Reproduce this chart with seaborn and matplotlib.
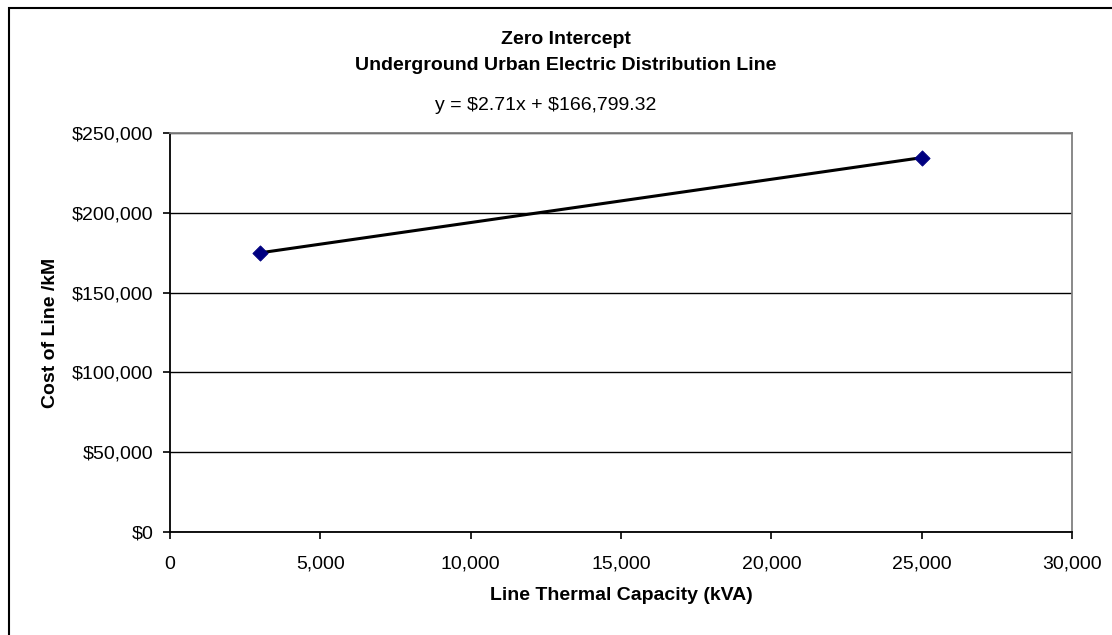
import matplotlib
matplotlib.use("Agg")
import matplotlib.pyplot as plt
from matplotlib.ticker import FuncFormatter, MultipleLocator
from matplotlib.patches import Rectangle
import seaborn as sns
import pandas as pd

# Observed line cost against thermal capacity
capacity_kva = [3000, 25000]
cost_per_km = [174929.32, 234549.32]

# Fitted trendline
slope = 2.71
intercept = 166799.32

title_lines = ["Zero Intercept", "Underground Urban Electric Distribution Line"]
x_label = "Line Thermal Capacity (kVA)"
y_label = "Cost of Line /kM"

sns.set_style("white")
plt.rcParams["font.family"] = ["Liberation Sans", "DejaVu Sans"]
plt.rcParams["text.color"] = "black"
plt.rcParams["axes.labelcolor"] = "black"
plt.rcParams["text.parse_math"] = False

FS = 14

df = pd.DataFrame({"capacity": capacity_kva, "cost": cost_per_km})
trend = pd.DataFrame({"capacity": capacity_kva,
                      "cost": [slope * x + intercept for x in capacity_kva]})

fig = plt.figure(figsize=(11.12, 6.35), dpi=100)
ax = fig.add_axes([170 / 1112, 1 - 532 / 635, (1072 - 170) / 1112, (532 - 133) / 635])

# chart-area frame (left and top edges visible)
fig.patches.append(Rectangle((9 / 1112, -0.1), 1.2, 1 - 8 / 635 + 0.1,
                             transform=fig.transFigure, fill=False,
                             edgecolor="black", linewidth=1.5, zorder=0))

sns.lineplot(data=trend, x="capacity", y="cost", ax=ax, color="black",
             linewidth=2.2, zorder=3)
sns.scatterplot(data=df, x="capacity", y="cost", ax=ax, marker="D",
                color="#000080", edgecolor="#000080", s=60, zorder=4)

ax.set_xlim(0, 30000)
ax.set_ylim(0, 250000)
ax.xaxis.set_major_locator(MultipleLocator(5000))
ax.yaxis.set_major_locator(MultipleLocator(50000))
ax.xaxis.set_major_formatter(FuncFormatter(lambda v, p: f"{v:,.0f}"))
ax.yaxis.set_major_formatter(FuncFormatter(lambda v, p: f"${v:,.0f}"))

ax.grid(axis="y", color="black", linewidth=1.0)
ax.grid(axis="x", visible=False)
ax.set_axisbelow(True)

for side in ["left", "bottom"]:
    ax.spines[side].set_color("black")
    ax.spines[side].set_linewidth(1.3)
for side in ["top", "right"]:
    ax.spines[side].set_color("#808080")
    ax.spines[side].set_linewidth(1.3)

ax.tick_params(axis="both", which="major", direction="out", length=5,
               width=1.2, color="black", labelsize=FS, labelcolor="black",
               bottom=True, left=True)
ax.tick_params(axis="x", pad=12)
ax.tick_params(axis="y", pad=7)

ax.set_xlabel(x_label, fontsize=FS, fontweight="bold", color="black")
ax.set_ylabel(y_label, fontsize=FS, fontweight="bold", color="black")
ax.xaxis.set_label_coords(0.5, -(595 - 532) / 399)
ax.yaxis.set_label_coords(-(170 - 50) / 902, 0.5)
ax.xaxis.label.set_va("center")
ax.yaxis.label.set_va("center")

fig.text(566 / 1112, 1 - 40 / 635, title_lines[0], ha="center", va="center",
         fontsize=FS, fontweight="bold", color="black")
fig.text(566 / 1112, 1 - 65 / 635, title_lines[1], ha="center", va="center",
         fontsize=FS, fontweight="bold", color="black")
fig.text(546 / 1112, 1 - 105 / 635, f"y = ${slope:.2f}x + ${intercept:,.2f}",
         ha="center", va="center", fontsize=FS, color="black")

fig.savefig("out.png", dpi=100)
